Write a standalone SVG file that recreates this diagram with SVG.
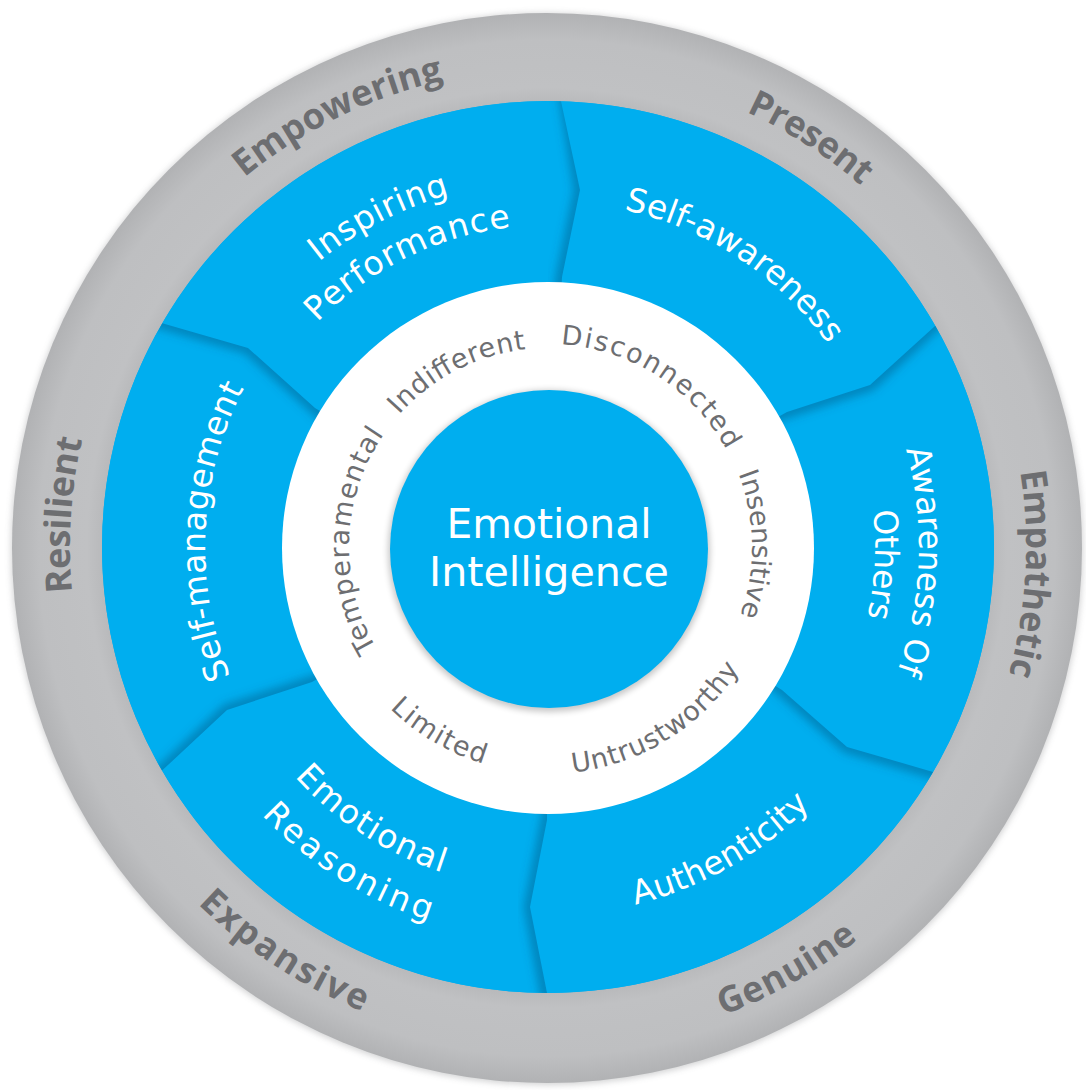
<svg xmlns="http://www.w3.org/2000/svg" width="1086" height="1090" viewBox="0 0 1086 1090">
<defs>
<style>
.g{font-family:"Open Sans","DejaVu Sans",sans-serif;font-weight:bold;font-size:36px;fill:#6d6e71;text-anchor:middle}
.b{font-family:"DejaVu Sans","Liberation Sans",sans-serif;font-size:33px;fill:#ffffff;text-anchor:middle}
.w{font-family:"DejaVu Sans","Liberation Sans",sans-serif;font-size:27px;fill:#6d6e71;text-anchor:middle}
.c{font-family:"DejaVu Sans","Liberation Sans",sans-serif;font-size:41px;fill:#ffffff;text-anchor:middle}
.seg{fill:#00aeef}
.sh{fill:none;stroke:#004f7a;stroke-width:12;stroke-opacity:0.45;stroke-linejoin:round;filter:url(#blur5)}
</style>
<radialGradient id="grayG" cx="547" cy="548" r="535" gradientUnits="userSpaceOnUse">
<stop offset="0.83" stop-color="#b8b9bb"/>
<stop offset="0.86" stop-color="#c0c1c3"/>
<stop offset="0.95" stop-color="#bebfc1"/>
<stop offset="1" stop-color="#b1b2b4"/>
</radialGradient>
<filter id="blur5" x="-50%" y="-50%" width="200%" height="200%"><feGaussianBlur stdDeviation="5"/></filter>
<filter id="blur3" x="-10%" y="-10%" width="120%" height="120%"><feGaussianBlur stdDeviation="3"/></filter>
<path id="p-sa" d="M561,101.2 A446,446 0 0 1 935.3,325.7 L870,385 L787,412 L548,547 L562,277 L580,190 Z"/>
<path id="p-ao" d="M935.3,325.7 A446,446 0 0 1 933.1,771.9 L847,747 L782,690 L548,547 L787,412 L870,385 Z"/>
<path id="p-au" d="M933.1,771.9 A446,446 0 0 1 547,993 L530,907 L547,820 L548,547 L782,690 L847,747 Z"/>
<path id="p-er" d="M547,993 A446,446 0 0 1 162,770.6 L227,710 L312,682 L548,547 L547,820 L530,907 Z"/>
<path id="p-sm" d="M162,770.6 A446,446 0 0 1 162.3,323.2 L248,348 L315,408 L548,547 L312,682 L227,710 Z"/>
<path id="p-ip" d="M162.3,323.2 A446,446 0 0 1 561,101.2 L580,190 L562,277 L548,547 L315,408 L248,348 Z"/>
<clipPath id="c-ip"><use href="#p-ip"/></clipPath>
<clipPath id="c-ao"><use href="#p-ao"/></clipPath>
<clipPath id="c-au"><use href="#p-au"/></clipPath>
<clipPath id="c-er"><use href="#p-er"/></clipPath>
<clipPath id="c-sm"><use href="#p-sm"/></clipPath>
<path id="r478" d="M98.8,383.5 A478,478 0 0 1 997.2,383.5"/>
<path id="r500" d="M78.15,718 A500,500 0 0 0 1017.85,718"/>
<path id="r366" d="M204.1,421.8 A366,366 0 0 1 891.9,421.8"/>
<path id="r371" d="M199.4,420.1 A371,371 0 0 1 896.6,420.1"/>
<path id="r322" d="M245.4,436.9 A322,322 0 0 1 850.6,436.9"/>
<path id="r346" d="M222.9,428.7 A346,346 0 0 1 873.1,428.7"/>
<path id="r327" d="M240.7,435.2 A327,327 0 0 1 855.3,435.2"/>
<path id="r343" d="M225.7,429.7 A343,343 0 0 1 870.3,429.7"/>
<path id="b368" d="M202.2,672.9 A368,368 0 0 0 893.8,672.9"/>
<path id="b342" d="M226.6,664 A342,342 0 0 0 869.4,664"/>
<path id="b392" d="M179.6,681.1 A392,392 0 0 0 916.4,681.1"/>
<path id="r199" d="M361,478.9 A199,199 0 0 1 735,478.9"/>
<path id="r203" d="M357.2,477.6 A203,203 0 0 1 738.8,477.6"/>
<path id="r204" d="M356.3,477.2 A204,204 0 0 1 739.7,477.2"/>
<path id="b227" d="M334.7,624.6 A227,227 0 0 0 761.3,624.6"/>
<path id="b226" d="M335.6,624.3 A226,226 0 0 0 760.4,624.3"/>
</defs>

<rect width="1086" height="1090" fill="#ffffff"/>

<g id="outer-ring">
<circle cx="547" cy="549" r="536" fill="#9a9b9d" opacity="0.45" filter="url(#blur3)"/>
<circle cx="547" cy="548" r="535" fill="url(#grayG)"/>
<text class="g" transform="rotate(-26 548 547)"><textPath href="#r478" startOffset="50%" textLength="224" lengthAdjust="spacing">Empowering</textPath></text>
<text class="g" transform="rotate(32.7 548 547)"><textPath href="#r478" startOffset="50%" textLength="137" lengthAdjust="spacing">Present</textPath></text>
<text class="g" transform="rotate(93.2 548 547)"><textPath href="#r478" startOffset="50%" textLength="205" lengthAdjust="spacing">Empathetic</textPath></text>
<text class="g" transform="rotate(-86.2 548 547)"><textPath href="#r478" startOffset="50%" textLength="154" lengthAdjust="spacing">Resilient</textPath></text>
<text class="g" transform="rotate(-29.4 548 547)"><textPath href="#r500" startOffset="50%" textLength="156" lengthAdjust="spacing">Genuine</textPath></text>
<text class="g" transform="rotate(33.1 548 547)"><textPath href="#r500" startOffset="50%" textLength="198" lengthAdjust="spacing">Expansive</textPath></text>
</g>

<circle cx="548" cy="547" r="446" fill="#00aeef"/>

<g id="seg-self-awareness"><use href="#p-sa" class="seg"/>
<text class="b" transform="rotate(33.4 548 547)"><textPath href="#r346" startOffset="50%" textLength="250" lengthAdjust="spacing">Self-awareness</textPath></text></g>
<g id="seg-awareness-of-others"><use href="#p-ao" class="seg"/>
<text class="b" transform="rotate(92.2 548 547)"><textPath href="#r371" startOffset="50%" textLength="226" lengthAdjust="spacing">Awareness Of</textPath></text>
<text class="b" transform="rotate(93 548 547)"><textPath href="#r327" startOffset="50%" textLength="108" lengthAdjust="spacing">Others</textPath></text></g>
<g id="seg-authenticity"><use href="#p-au" class="seg"/>
<text class="b" transform="rotate(-29.6 548 547)"><textPath href="#b368" startOffset="50%" textLength="204" lengthAdjust="spacing">Authenticity</textPath></text></g>
<g id="seg-emotional-reasoning"><use href="#p-er" class="seg"/>
<text class="b" transform="rotate(32.9 548 547)"><textPath href="#b342" startOffset="50%" textLength="178" lengthAdjust="spacing">Emotional</textPath></text>
<text class="b" transform="rotate(32.3 548 547)"><textPath href="#b392" startOffset="50%" textLength="200" lengthAdjust="spacing">Reasoning</textPath></text></g>
<g id="seg-self-management"><use href="#p-sm" class="seg"/>
<text class="b" transform="rotate(-87.3 548 547)"><textPath href="#r343" startOffset="50%" textLength="298" lengthAdjust="spacing">Self-management</textPath></text></g>
<g id="seg-inspiring-performance"><use href="#p-ip" class="seg"/>
<text class="b" transform="rotate(-27.2 548 547)"><textPath href="#r366" startOffset="50%" textLength="148" lengthAdjust="spacing">Inspiring</textPath></text>
<text class="b" transform="rotate(-26.2 548 547)"><textPath href="#r322" startOffset="50%" textLength="220" lengthAdjust="spacing">Performance</textPath></text></g>

<g id="connectors">
<polyline class="sh" clip-path="url(#c-ip)" points="559,60 580,190 562,277 560,300"/>
<polyline class="sh" clip-path="url(#c-ao)" points="971,292 870,385 787,412 747,425"/>
<polyline class="sh" clip-path="url(#c-au)" points="745,657 782,690 847,747 975,785"/>
<polyline class="sh" clip-path="url(#c-er)" points="552,790 547,820 530,907 553,1030"/>
<polyline class="sh" clip-path="url(#c-sm)" points="350,670 312,682 227,710 130,801"/>
<polyline class="sh" clip-path="url(#c-sm)" points="120,311 162,323 248,348 315,408 350,440"/>
</g>

<g id="inner-ring">
<circle cx="548" cy="548" r="266" fill="#ffffff"/>
<text class="w" transform="rotate(-27.4 548 547)"><textPath href="#r199" startOffset="50%" textLength="146" lengthAdjust="spacing">Indifferent</textPath></text>
<text class="w" transform="rotate(32.5 548 547)"><textPath href="#r203" startOffset="50%" textLength="205" lengthAdjust="spacing">Disconnected</textPath></text>
<text class="w" transform="rotate(89.25 548 547)"><textPath href="#r204" startOffset="50%" textLength="145" lengthAdjust="spacing">Insensitive</textPath></text>
<text class="w" transform="rotate(-31.9 548 547)"><textPath href="#b227" startOffset="50%" textLength="203" lengthAdjust="spacing">Untrustworthy</textPath></text>
<text class="w" transform="rotate(30.5 548 547)"><textPath href="#b226" startOffset="50%" textLength="110" lengthAdjust="spacing">Limited</textPath></text>
<text class="w" transform="rotate(-88 548 547)"><textPath href="#r199" startOffset="50%" textLength="226" lengthAdjust="spacing">Temperamental</textPath></text>
</g>

<g id="center">
<circle cx="549" cy="551" r="161" fill="#000000" opacity="0.22" filter="url(#blur3)"/>
<circle cx="549" cy="549" r="159" fill="#00aeef"/>
<text class="c" x="549" y="538" textLength="205" lengthAdjust="spacingAndGlyphs">Emotional</text>
<text class="c" x="549" y="586" textLength="240" lengthAdjust="spacingAndGlyphs">Intelligence</text>
</g>
</svg>
